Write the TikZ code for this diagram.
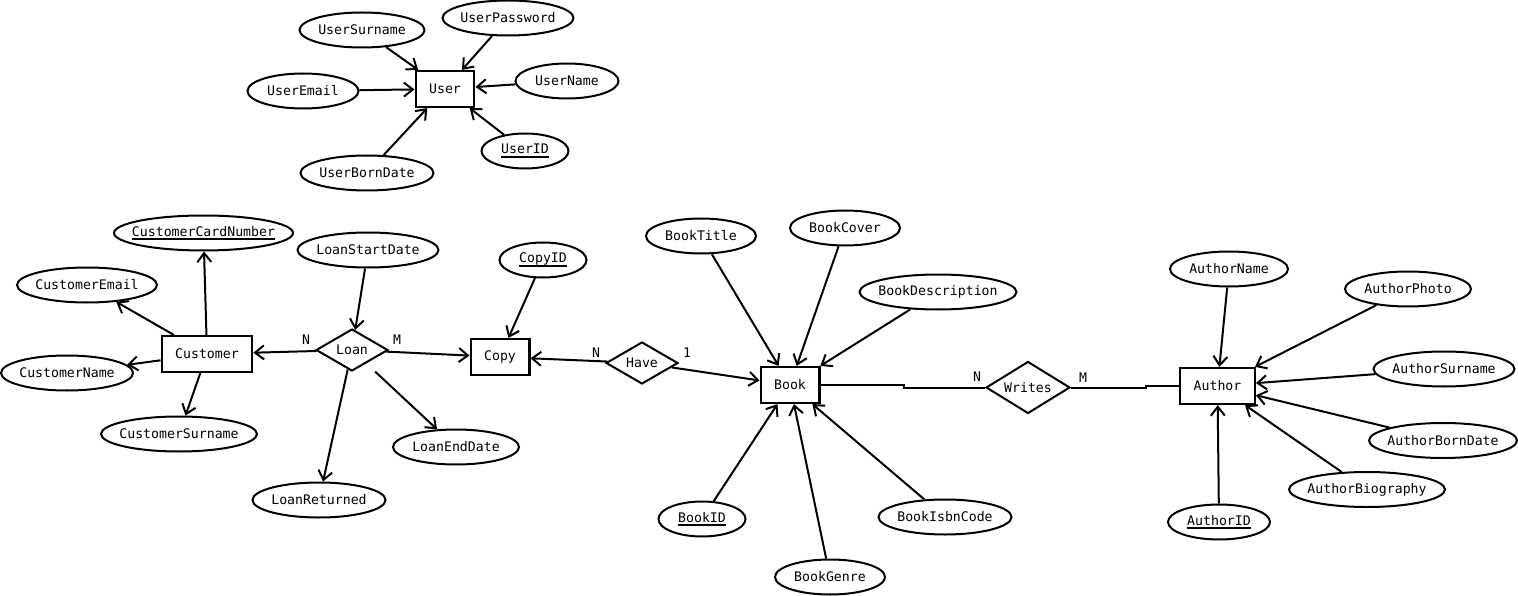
\documentclass[tikz,border=0pt]{standalone}
\usepackage{fontspec}
\setmainfont{DejaVu Sans Mono}
\usepackage{tikz}
\usetikzlibrary{arrows.meta,positioning,shapes.geometric}
\newcommand{\keyul}[1]{\setbox0\hbox{#1}\rlap{\rule[-4pt]{\wd0}{2pt}}\box0}
\tikzset{
  erfont/.style={font=\fontsize{13.2pt}{15pt}\selectfont},
  entity/.style={draw,rectangle,line width=2.2pt,erfont,inner xsep=13.5pt,minimum height=36pt},
  attr/.style={draw,ellipse,line width=2pt,erfont,inner sep=0pt,minimum height=35pt,minimum width=#1,
    execute at begin node={\hbox to 0pt\bgroup\hss},execute at end node={\hss\egroup}},
  rel/.style={draw,diamond,line width=2pt,erfont,inner sep=0pt,minimum width=#1,minimum height=42pt,
    execute at begin node={\hbox to 0pt\bgroup\hss},execute at end node={\hss\egroup}},
  card/.style={erfont,inner sep=0pt},
  conn/.style={-{Straight Barb[length=9pt,width=14pt]},line width=2pt},
  link/.style={line width=2pt},
}
\begin{document}
\begin{tikzpicture}[x=1pt,y=-1pt]
\fill[white] (0,0) rectangle (1518,596);
\useasboundingbox (0,0) rectangle (1518,596);
% user
\node[entity] (user) at (445,89) {User};
\node[attr=125] (usurname) at (362,30) {UserSurname};
\node[attr=131] (upass) at (508,18) {UserPassword};
\node[attr=111] (uemail) at (303,91) {UserEmail};
\node[attr=103] (uname) at (567,81) {UserName};
\node[attr=87] (uid) at (525,151) {\keyul{UserID}};
\node[attr=133] (uborn) at (367,173) {UserBornDate};
\foreach \a in {usurname,upass,uemail,uname,uid,uborn}
  \draw[conn] (\a) -- (user);
% customer
\node[entity] (cust) at (207,354) {Customer};
\node[attr=179] (ccard) at (203.5,233) {\keyul{CustomerCardNumber}};
\node[attr=140] (cemail) at (87,285) {CustomerEmail};
\node[attr=132] (cname) at (67,373) {CustomerName};
\node[attr=156] (csurname) at (179,434) {CustomerSurname};
\foreach \a in {ccard,cemail,cname,csurname}
  \draw[conn] (cust) -- (\a);
% loan
\node[rel=72] (loan) at (352,350) {Loan};
\node[attr=141] (lstart) at (368,250) {LoanStartDate};
\node[attr=126] (lend) at (456,447) {LoanEndDate};
\node[attr=133] (lret) at (319,500) {LoanReturned};
\draw[conn] (lstart) -- (loan);
\draw[conn,shorten <=12pt] (loan) -- (lend);
\draw[conn] (loan) -- (lret);
% copy
\node[entity] (copy) at (500,357) {Copy};
\node[attr=87] (copyid) at (543,260) {\keyul{CopyID}};
\draw[conn] (copyid) -- (copy);
\draw[conn] (loan) -- (cust);
\draw[conn] (loan) -- (copy);
\node[card] (lN) at (306,340) {N};
\node[card] (lM) at (397,340) {M};
% have
\node[rel=72] (have) at (642,363) {Have};
\node[card] (hN) at (596,353) {N};
\node[card] (h1) at (687,353) {1};
% book
\node[entity] (book) at (790,385) {Book};
\node[attr=110] (btitle) at (701,236) {BookTitle};
\node[attr=110] (bcover) at (845,228) {BookCover};
\node[attr=157] (bdesc) at (938,292) {BookDescription};
\node[attr=87] (bid) at (702,519) {\keyul{BookID}};
\node[attr=110] (bgenre) at (830,577) {BookGenre};
\node[attr=133] (bisbn) at (945,517) {BookIsbnCode};
\foreach \a in {btitle,bcover,bdesc,bid,bgenre,bisbn}
  \draw[conn] (\a) -- (book);
\draw[conn] (have) -- (copy);
\draw[conn] (have) -- (book);
% writes
\node[rel=84,minimum height=52pt] (writes) at (1028,387.5) {Writes};
\node[card] (wN) at (977,377) {N};
\node[card] (wM) at (1083,378) {M};
% author
\node[entity] (author) at (1217.5,386) {Author};
\node[attr=118] (aname) at (1229,269) {AuthorName};
\node[attr=126] (aphoto) at (1408,289) {AuthorPhoto};
\node[attr=141] (asurname) at (1444,369) {AuthorSurname};
\node[attr=148] (aborn) at (1443,440.5) {AuthorBornDate};
\node[attr=156] (abio) at (1367,489.5) {AuthorBiography};
\node[attr=102] (aid) at (1219,522) {\keyul{AuthorID}};
\foreach \a in {aname,aphoto,asurname,aborn,abio,aid}
  \draw[conn] (\a) -- (author);
\draw[link] (book.east) -- ++(83,0) |- (writes.west);
\draw[link] (writes.east) -- ++(75,0) |- (author.west);
\end{tikzpicture}
\end{document}
